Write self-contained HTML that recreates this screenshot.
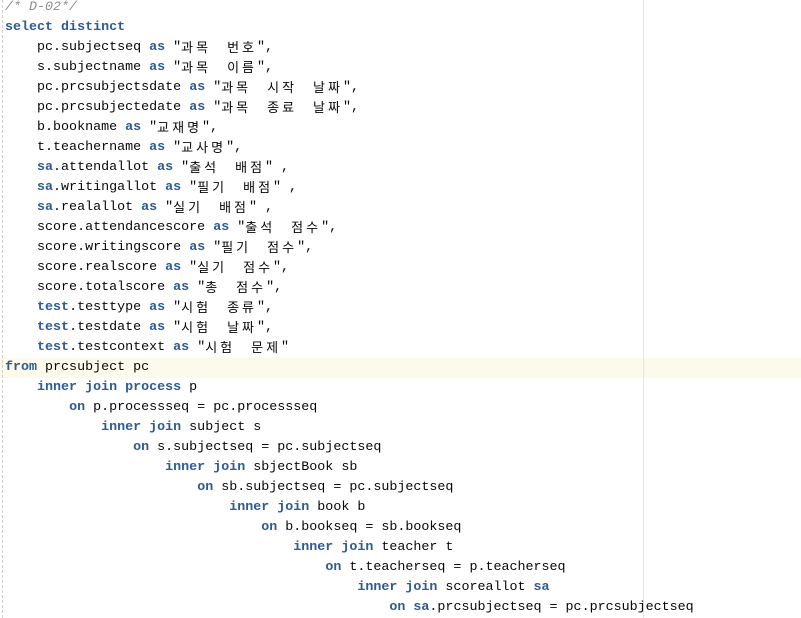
<!DOCTYPE html>
<html><head><meta charset="utf-8"><style>
html,body{margin:0;padding:0;background:#fff;width:801px;height:618px;overflow:hidden;position:relative}
.guide{position:absolute;left:643px;top:0;width:1px;height:618px;background:#e4e4e4}
.dash{position:absolute;left:2px;top:0;height:618px;border-left:1px dashed #d0d0d0}
.hl{position:absolute;left:0;top:358px;width:801px;height:20px;background:#fcfaeb}
pre{position:absolute;left:5px;top:-2px;margin:0;font-family:"Liberation Mono","Noto Sans CJK KR",monospace;font-size:13.35px;line-height:20px;color:#080808}
pre>div{height:20px;line-height:20px;white-space:pre;overflow:visible}
b{color:#2f5a92;font-weight:bold}
i{color:#8c8c8c}
k{display:inline-block;height:20px;line-height:20px;vertical-align:top;position:relative;top:-1px;font-family:"Noto Sans CJK KR",sans-serif;font-size:13px;letter-spacing:3px}
</style></head><body>
<div class="hl"></div><div class="guide"></div><div class="dash"></div>
<pre><div><i>/* D-02*/</i></div><div><b>select distinct</b></div><div>    pc.subjectseq <b>as</b> "<k>과목　번호</k>",</div><div>    s.subjectname <b>as</b> "<k>과목　이름</k>",</div><div>    pc.prcsubjectsdate <b>as</b> "<k>과목　시작　날짜</k>",</div><div>    pc.prcsubjectedate <b>as</b> "<k>과목　종료　날짜</k>",</div><div>    b.bookname <b>as</b> "<k>교재명</k>",</div><div>    t.teachername <b>as</b> "<k>교사명</k>",</div><div>    <b>sa</b>.attendallot <b>as</b> "<k>출석　배점</k>" ,</div><div>    <b>sa</b>.writingallot <b>as</b> "<k>필기　배점</k>" ,</div><div>    <b>sa</b>.realallot <b>as</b> "<k>실기　배점</k>" ,</div><div>    score.attendancescore <b>as</b> "<k>출석　점수</k>",</div><div>    score.writingscore <b>as</b> "<k>필기　점수</k>",</div><div>    score.realscore <b>as</b> "<k>실기　점수</k>",</div><div>    score.totalscore <b>as</b> "<k>총　점수</k>",</div><div>    <b>test</b>.testtype <b>as</b> "<k>시험　종류</k>",</div><div>    <b>test</b>.testdate <b>as</b> "<k>시험　날짜</k>",</div><div>    <b>test</b>.testcontext <b>as</b> "<k>시험　문제</k>"</div><div><b>from</b> prcsubject pc</div><div>    <b>inner join process</b> p</div><div>        <b>on</b> p.processseq = pc.processseq</div><div>            <b>inner join</b> subject s</div><div>                <b>on</b> s.subjectseq = pc.subjectseq</div><div>                    <b>inner join</b> sbjectBook sb</div><div>                        <b>on</b> sb.subjectseq = pc.subjectseq</div><div>                            <b>inner join</b> book b</div><div>                                <b>on</b> b.bookseq = sb.bookseq</div><div>                                    <b>inner join</b> teacher t</div><div>                                        <b>on</b> t.teacherseq = p.teacherseq</div><div>                                            <b>inner join</b> scoreallot <b>sa</b></div><div>                                                <b>on</b> <b>sa</b>.prcsubjectseq = pc.prcsubjectseq</div></pre>
</body></html>
